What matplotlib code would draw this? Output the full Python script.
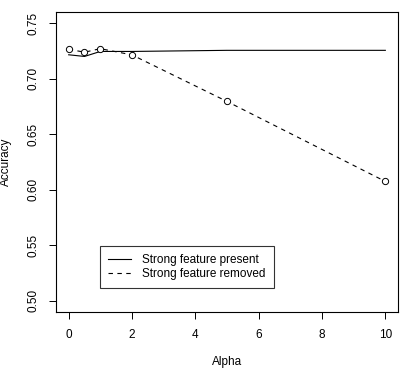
import matplotlib
matplotlib.use('Agg')
import matplotlib.pyplot as plt

plt.rcParams['font.family'] = ['Liberation Sans', 'DejaVu Sans']

# Data
alpha = [0, 0.5, 1, 2, 5, 10]
acc_present = [0.7215, 0.7200, 0.7245, 0.7245, 0.7255, 0.7255]
acc_removed = [0.7265, 0.7238, 0.7270, 0.7214, 0.6795, 0.6075]
x_ticks = [0, 2, 4, 6, 8, 10]
y_ticks = [0.50, 0.55, 0.60, 0.65, 0.70, 0.75]

fig = plt.figure(figsize=(4.02, 3.68), dpi=100)
ax = fig.add_axes([56 / 402, 56 / 368, 342 / 402, 300 / 368])

ax.plot(alpha, acc_present, color='black', lw=0.8, label='Strong feature present')
ax.plot(alpha, acc_removed, color='black', lw=0.8, ls=(0, (4, 4)),
        label='Strong feature removed')
ax.plot(alpha, acc_removed, ls='none', marker='o', ms=4.5, mfc='white',
        mec='black', mew=0.7)

ax.set_xlim(-0.4, 10.4)
ax.set_ylim(0.49, 0.76)
ax.set_xticks(x_ticks)
ax.set_xticklabels([str(t) for t in x_ticks])
ax.set_yticks(y_ticks)
ax.set_yticklabels(['%.2f' % t for t in y_ticks], rotation=90, va='center')

ax.tick_params(direction='out', length=5, width=0.7, labelsize=8.5, pad=7)
for s in ax.spines.values():
    s.set_linewidth(0.8)

ax.set_xlabel('Alpha', fontsize=8.5, labelpad=11)
ax.set_ylabel('Accuracy', fontsize=8.5, labelpad=11)

leg = ax.legend(loc='lower left', bbox_to_anchor=(44 / 342, 24 / 300),
                borderaxespad=0, fontsize=8.5, frameon=True, fancybox=False,
                handlelength=1.9, borderpad=0.7, labelspacing=0.15,
                handletextpad=1.0)
leg.get_frame().set_edgecolor('black')
leg.get_frame().set_linewidth(0.8)

fig.savefig('out.png', dpi=100)
